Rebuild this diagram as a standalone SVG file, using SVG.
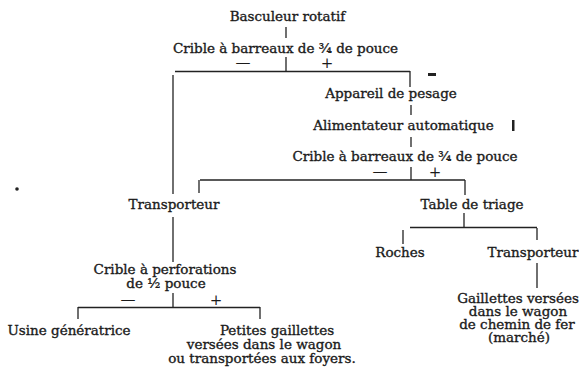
<svg xmlns="http://www.w3.org/2000/svg" width="579" height="369" viewBox="0 0 579 369">
<style>
text{font-family:"DejaVu Serif","Liberation Serif",serif;font-size:13.5px;fill:#1a1a1a;stroke:#1a1a1a;stroke-width:0.35;text-anchor:middle}
.c line{stroke:#222;stroke-width:1.3}
.s{font-size:15px;stroke-width:0}
.m{fill:#222}
</style>
<rect width="579" height="369" fill="#fff"/>
<g class="c" id="connectors">
<line x1="286" y1="27" x2="286" y2="38"/>
<line x1="286" y1="57" x2="286" y2="72"/>
<line x1="175" y1="71.5" x2="410" y2="71.5"/>
<line x1="173" y1="75" x2="173" y2="194"/>
<line x1="410" y1="71" x2="410" y2="87"/>
<line x1="411" y1="105" x2="411" y2="115"/>
<line x1="411" y1="137" x2="411" y2="147"/>
<line x1="411" y1="167" x2="411" y2="180"/>
<line x1="200" y1="180" x2="465" y2="180"/>
<line x1="199" y1="180" x2="199" y2="193"/>
<line x1="465" y1="180" x2="465" y2="195"/>
<line x1="173" y1="217" x2="173" y2="262"/>
<line x1="173" y1="293" x2="173" y2="308"/>
<line x1="78" y1="307.5" x2="260" y2="307.5"/>
<line x1="78" y1="307" x2="78" y2="319"/>
<line x1="260" y1="307" x2="260" y2="319"/>
<line x1="464" y1="213" x2="464" y2="228"/>
<line x1="410" y1="227.5" x2="537" y2="227.5"/>
<line x1="403" y1="230" x2="403" y2="244"/>
<line x1="537" y1="228" x2="537" y2="240"/>
<line x1="537" y1="263" x2="537" y2="288"/>
</g>
<g id="marks">
<rect class="m" x="428" y="73" width="8" height="3"/>
<rect class="m" x="512" y="120" width="2.5" height="11"/>
<circle class="m" cx="17" cy="189" r="1.8"/>
</g>
<g id="basculeur"><text x="287.5" y="21">Basculeur rotatif</text></g>
<g id="crible1"><text x="285.5" y="53">Crible à barreaux de ¾ de pouce</text>
<text class="s" x="243" y="67">—</text><text class="s" x="327" y="68">+</text></g>
<g id="appareil"><text x="391" y="98">Appareil de pesage</text></g>
<g id="alimentateur"><text x="403.5" y="130">Alimentateur automatique</text></g>
<g id="crible2"><text x="405" y="161">Crible à barreaux de ¾ de pouce</text>
<text class="s" x="380" y="176">—</text><text class="s" x="435" y="177">+</text></g>
<g id="transporteur1"><text x="174" y="209">Transporteur</text></g>
<g id="table"><text x="472" y="209">Table de triage</text></g>
<g id="crible3"><text x="165" y="274">Crible à perforations</text><text x="166" y="288">de ½ pouce</text>
<text class="s" x="128" y="304">—</text><text class="s" x="216" y="305">+</text></g>
<g id="usine"><text x="69" y="335">Usine génératrice</text></g>
<g id="petites"><text x="277" y="335">Petites gaillettes</text><text x="264" y="349">versées dans le wagon</text><text x="262" y="363">ou transportées aux foyers.</text></g>
<g id="roches"><text x="400" y="257">Roches</text></g>
<g id="transporteur2"><text x="533" y="257">Transporteur</text></g>
<g id="gaillettes"><text x="518" y="303">Gaillettes versées</text><text x="518" y="316">dans le wagon</text><text x="517" y="329">de chemin de fer</text><text x="519" y="342">(marché)</text></g>
</svg>
